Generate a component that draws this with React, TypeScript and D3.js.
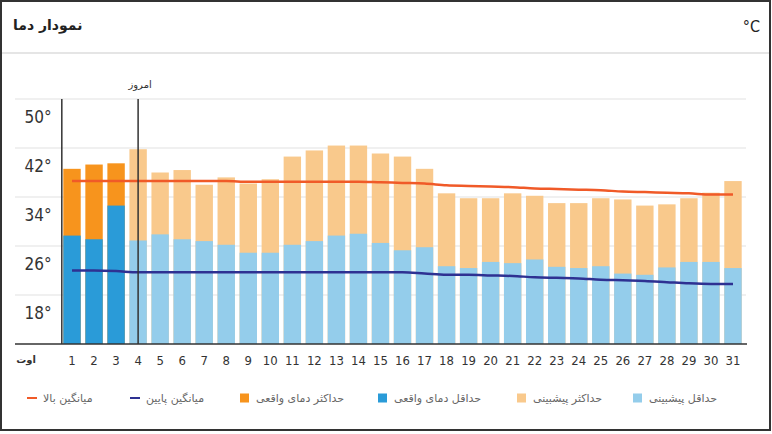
import React, { useRef, useEffect } from 'react';
import * as d3 from 'd3';

const DAYS = d3.range(1, 32);
const MONTH_LABEL = 'اوت';
const TODAY = 4;

// actual temperatures (days 1-3)
const actualMax = [41.6, 42.3, 42.5];
const actualMin = [30.7, 30.1, 35.6];

// forecast (days 4-31)
const forecastMax = [44.8, 41.0, 41.4, 39.0, 40.2, 39.2, 39.9, 43.6, 44.6, 45.4, 45.4, 44.1, 43.6, 41.6,
  37.6, 36.8, 36.8, 37.6, 37.2, 36.0, 36.0, 36.8, 36.6, 35.6, 35.8, 36.8, 37.7, 39.6];
const forecastMin = [29.9, 30.9, 30.1, 29.8, 29.2, 27.9, 27.9, 29.2, 29.8, 30.7, 31.0, 29.5, 28.3, 28.8,
  25.7, 25.4, 26.4, 26.2, 26.8, 25.6, 25.4, 25.7, 24.5, 24.3, 25.5, 26.4, 26.4, 25.4];

const avgHigh = [39.6, 39.6, 39.6, 39.6, 39.6, 39.6, 39.6, 39.6, 39.5, 39.5, 39.5, 39.5, 39.5, 39.5, 39.4, 39.3,
  39.2, 38.9, 38.8, 38.7, 38.6, 38.4, 38.3, 38.2, 38.1, 37.9, 37.8, 37.7, 37.6, 37.4, 37.4];
const avgLow = [25.0, 25.0, 24.9, 24.7, 24.7, 24.7, 24.7, 24.7, 24.7, 24.7, 24.7, 24.7, 24.7, 24.7, 24.7, 24.7,
  24.5, 24.3, 24.3, 24.2, 24.1, 23.9, 23.8, 23.7, 23.5, 23.4, 23.3, 23.1, 22.9, 22.8, 22.8];

const Y_LABELS = [18, 26, 34, 42, 50];
const GRID_VALUES = [21, 29, 37, 45, 53];

const C = {
  actualMax: '#f7941d',
  actualMin: '#2a9bd8',
  forecastMax: '#f9c98c',
  forecastMin: '#94cdeb',
  avgHigh: '#f05a28',
  avgLow: '#2e3192',
};

const LEGEND = [
  { label: 'حداقل پیشبینی', color: C.forecastMin, type: 'square' },
  { label: 'حداکثر پیشبینی', color: C.forecastMax, type: 'square' },
  { label: 'حداقل دمای واقعی', color: C.actualMin, type: 'square' },
  { label: 'حداکثر دمای واقعی', color: C.actualMax, type: 'square' },
  { label: 'میانگین پایین', color: C.avgLow, type: 'line' },
  { label: 'میانگین بالا', color: C.avgHigh, type: 'line' },
];

const FA_FONT = 'DejaVu Sans, sans-serif';
const NUM_FONT = 'Liberation Sans Narrow, DejaVu Sans Condensed, sans-serif';

export default function App() {
  const svgRef = useRef<SVGSVGElement>(null);
  const width = 772;
  const height = 434;

  useEffect(() => {
    const svg = d3.select(svgRef.current);
    svg.selectAll('*').remove();

    const x = d3.scaleBand<number>()
      .domain(DAYS)
      .range([61, 744])
      .paddingInner(0.21)
      .paddingOuter(0.105);

    const y = d3.scaleLinear()
      .domain([13, 53])
      .range([344, 99]);

    const cx = (d: number) => (x(d) as number) + x.bandwidth() / 2;

    // card frame
    svg.append('rect')
      .attr('x', 1).attr('y', 1)
      .attr('width', 769).attr('height', 429)
      .attr('fill', '#fff')
      .attr('stroke', '#333')
      .attr('stroke-width', 2);

    svg.append('line')
      .attr('x1', 2).attr('x2', 769)
      .attr('y1', 53).attr('y2', 53)
      .attr('stroke', '#ddd')
      .attr('stroke-width', 1.5);

    svg.append('text')
      .attr('x', 13).attr('y', 25)
      .attr('dy', '0.35em')
      .attr('font-family', FA_FONT)
      .attr('font-weight', 'bold')
      .attr('font-size', 14)
      .attr('fill', '#222')
      .text('نمودار دما');

    svg.append('text')
      .attr('x', 760).attr('y', 26)
      .attr('dy', '0.35em')
      .attr('text-anchor', 'end')
      .attr('font-family', NUM_FONT)
      .attr('font-size', 16)
      .attr('fill', '#222')
      .text('°C');

    // gridlines
    svg.append('g')
      .selectAll('line')
      .data(GRID_VALUES)
      .join('line')
      .attr('x1', 15).attr('x2', 746)
      .attr('y1', d => y(d)).attr('y2', d => y(d))
      .attr('stroke', '#ebebeb')
      .attr('stroke-width', 1.5);

    // y labels
    svg.append('g')
      .selectAll('text')
      .data(Y_LABELS)
      .join('text')
      .attr('x', 38)
      .attr('y', d => y(d))
      .attr('dy', '0.35em')
      .attr('text-anchor', 'middle')
      .attr('font-family', NUM_FONT)
      .attr('font-size', 17)
      .attr('fill', '#333')
      .text(d => `${d}°`);

    // bars
    const actualDays = DAYS.slice(0, actualMax.length);
    const forecastDays = DAYS.slice(actualMax.length);
    const barLayer = svg.append('g');
    const drawBars = (days: number[], values: number[], color: string) => {
      barLayer.append('g')
        .selectAll('rect')
        .data(days)
        .join('rect')
        .attr('x', d => x(d) as number)
        .attr('width', x.bandwidth())
        .attr('y', (d, i) => y(values[i]))
        .attr('height', (d, i) => y(13) - y(values[i]))
        .attr('fill', color);
    };
    drawBars(forecastDays, forecastMax, C.forecastMax);
    drawBars(forecastDays, forecastMin, C.forecastMin);
    drawBars(actualDays, actualMax, C.actualMax);
    drawBars(actualDays, actualMin, C.actualMin);

    // average lines
    const line = d3.line<number>()
      .x((d, i) => cx(DAYS[i]))
      .y(d => y(d))
      .curve(d3.curveMonotoneX);

    svg.append('path')
      .datum(avgHigh)
      .attr('fill', 'none')
      .attr('stroke', C.avgHigh)
      .attr('stroke-width', 2.5)
      .attr('d', line);

    svg.append('path')
      .datum(avgLow)
      .attr('fill', 'none')
      .attr('stroke', C.avgLow)
      .attr('stroke-width', 2.5)
      .attr('d', line);

    // left boundary and today marker
    const leftX = (x(1) as number) - 1.5;
    svg.append('line')
      .attr('x1', leftX).attr('x2', leftX)
      .attr('y1', y(53)).attr('y2', y(13))
      .attr('stroke', '#333')
      .attr('stroke-width', 1.5);

    svg.append('line')
      .attr('x1', cx(TODAY)).attr('x2', cx(TODAY))
      .attr('y1', y(53)).attr('y2', y(13))
      .attr('stroke', '#333')
      .attr('stroke-width', 1.5);

    svg.append('text')
      .attr('x', cx(TODAY) + 2).attr('y', 84)
      .attr('dy', '0.35em')
      .attr('text-anchor', 'middle')
      .attr('font-family', FA_FONT)
      .attr('font-size', 10)
      .attr('fill', '#333')
      .text('امروز');

    // baseline
    svg.append('line')
      .attr('x1', 15).attr('x2', 747)
      .attr('y1', y(13)).attr('y2', y(13))
      .attr('stroke', '#333')
      .attr('stroke-width', 1.5);

    // x labels
    svg.append('g')
      .selectAll('text')
      .data(DAYS)
      .join('text')
      .attr('x', d => cx(d))
      .attr('y', 360)
      .attr('dy', '0.35em')
      .attr('text-anchor', 'middle')
      .attr('font-family', NUM_FONT)
      .attr('font-size', 13)
      .attr('fill', '#333')
      .text(d => d);

    svg.append('text')
      .attr('x', 26).attr('y', 359)
      .attr('dy', '0.35em')
      .attr('text-anchor', 'middle')
      .attr('font-family', FA_FONT)
      .attr('font-size', 10)
      .attr('font-weight', 'bold')
      .attr('fill', '#333')
      .text(MONTH_LABEL);

    // legend (right to left)
    const legendX = [633, 517, 378, 240, 130, 27];
    const legend = svg.append('g');
    LEGEND.forEach((item, i) => {
      const g = legend.append('g').attr('transform', `translate(${legendX[i]},398)`);
      if (item.type === 'square') {
        g.append('rect')
          .attr('x', 0).attr('y', -4.5)
          .attr('width', 9).attr('height', 9)
          .attr('fill', item.color);
      } else {
        g.append('line')
          .attr('x1', 0).attr('x2', 10)
          .attr('y1', 0).attr('y2', 0)
          .attr('stroke', item.color)
          .attr('stroke-width', 2);
      }
      g.append('text')
        .attr('x', 16).attr('y', 0)
        .attr('dy', '0.35em')
        .attr('font-family', FA_FONT)
        .attr('font-size', 11)
        .attr('fill', '#666')
        .text(item.label);
    });
  }, []);

  return (
    <svg
      ref={svgRef}
      width={width}
      height={height}
      viewBox={`0 0 ${width} ${height}`}
      style={{ position: 'absolute', left: 0, top: 0, display: 'block' }}
    />
  );
}
